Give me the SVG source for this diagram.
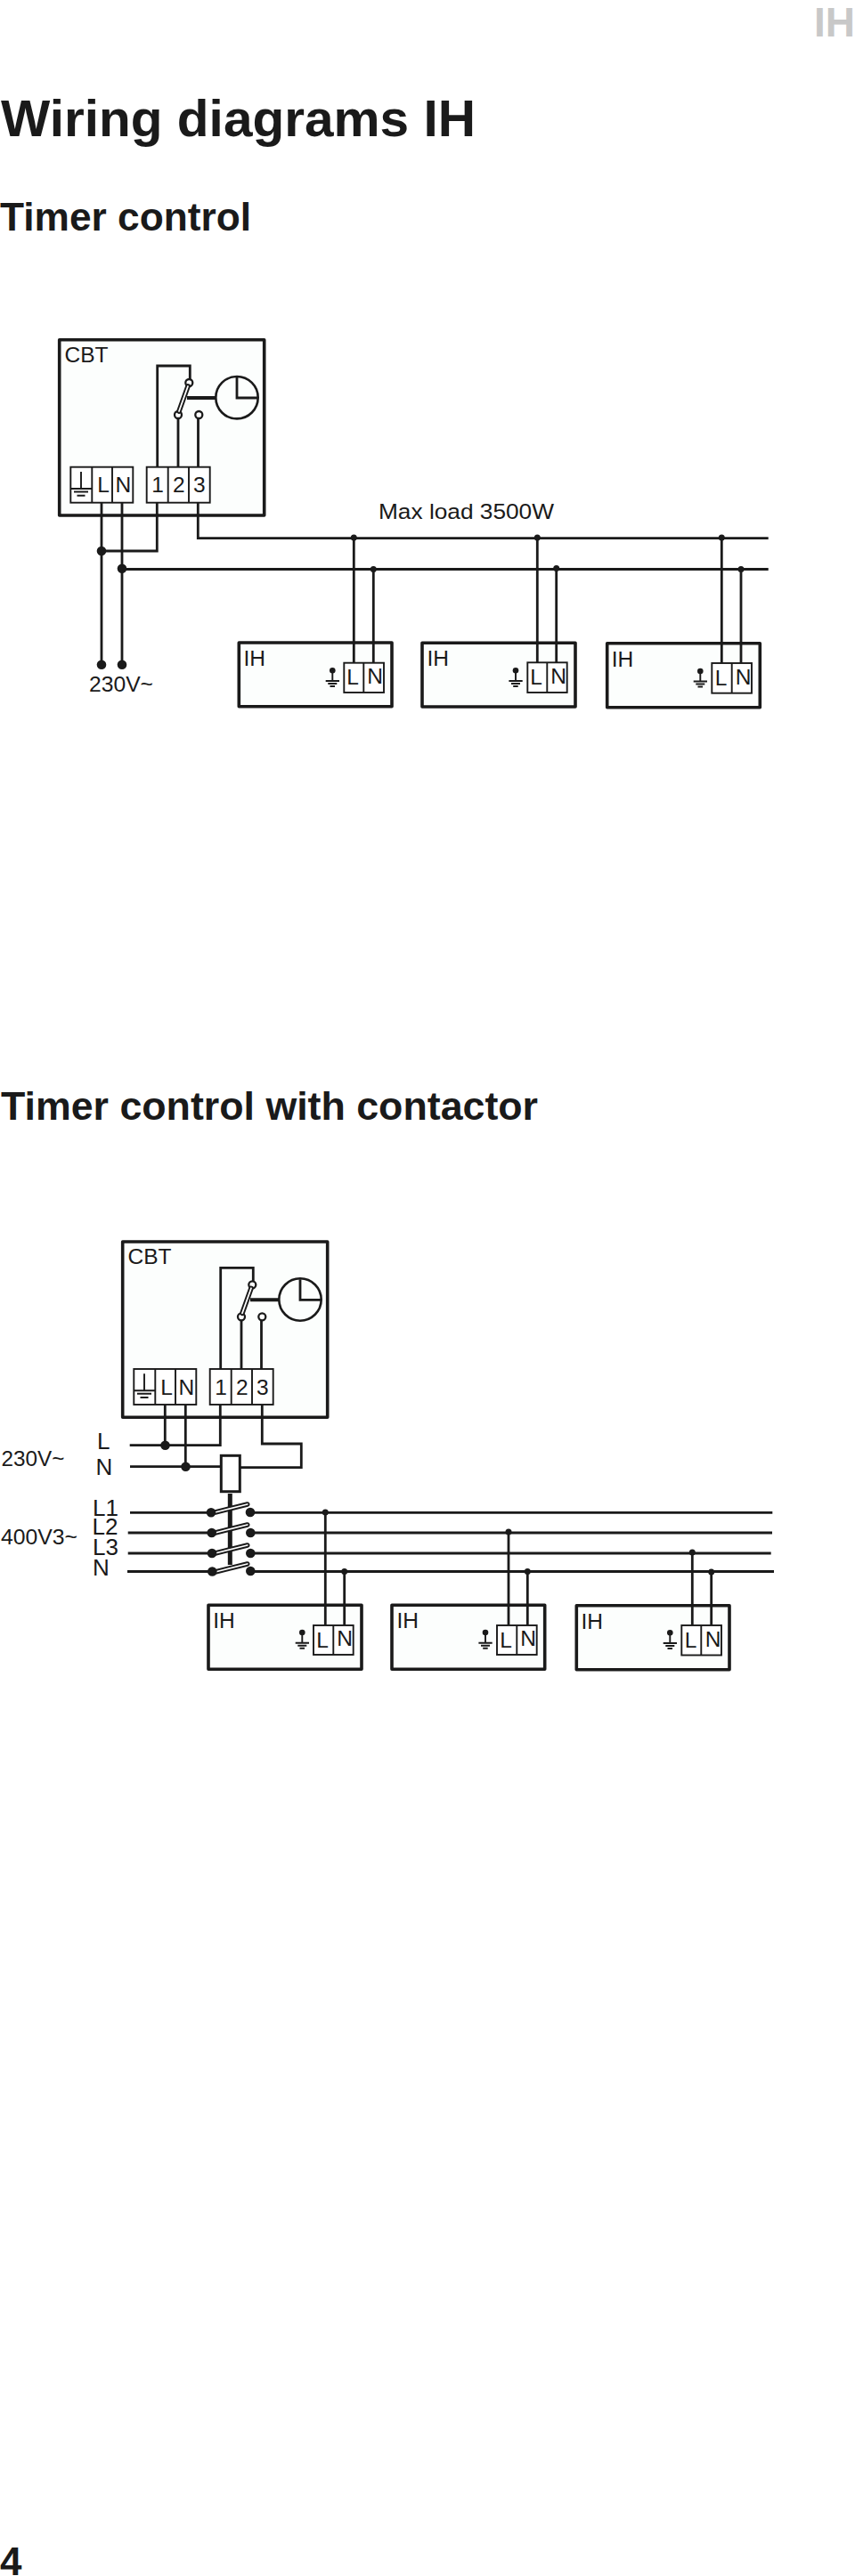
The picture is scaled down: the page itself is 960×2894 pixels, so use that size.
<svg xmlns="http://www.w3.org/2000/svg" width="960" height="2894" viewBox="0 0 960 2894">
<style>
text{font-family:"Liberation Sans",Arial,sans-serif;fill:#1a1a1a}
.h{font-weight:700}
.t{font-size:24.5px}
.lab{font-size:26px}
.c{text-anchor:middle}
.box{fill:#fcfefd;stroke:#1a1a1a;stroke-width:3.6;stroke-linejoin:round}
.term{fill:#fff;stroke:#1a1a1a;stroke-width:1.9}
.w{fill:none;stroke:#1a1a1a;stroke-width:2.8}
.thin{fill:none;stroke:#1a1a1a;stroke-width:1.9}
.open{fill:#fff;stroke:#1a1a1a;stroke-width:2.3}
.dot{fill:#1a1a1a}
.arm{stroke:#1a1a1a;stroke-width:5.6;stroke-linecap:round}
.core{stroke:#fff;stroke-width:1.8;stroke-linecap:round}
</style>
<rect width="960" height="2894" fill="#fff"/>
<text class="h" x="914" y="40.7" font-size="46" style="fill:#c8c8c8">IH</text>
<text class="h" x="1" y="153" font-size="58" textLength="533" lengthAdjust="spacingAndGlyphs">Wiring diagrams IH</text>
<text class="h" x="0" y="259.3" font-size="44" textLength="282" lengthAdjust="spacingAndGlyphs">Timer control</text>
<text class="h" x="1" y="1257.7" font-size="44" textLength="603" lengthAdjust="spacingAndGlyphs">Timer control with contactor</text>
<text class="h" x="0" y="2892.7" font-size="44">4</text>

<g id="cbt-1">
<rect class="box" x="66.7" y="381.7" width="230" height="197.3"/>
<text class="t" x="72.5" y="407">CBT</text>
<path class="w" d="M176.7 524.7V411H213.3V430M200 466V524.7M222.5 470V524.7"/>
<circle class="open" cx="212.3" cy="430" r="4"/>
<circle class="open" cx="200" cy="466" r="4"/>
<circle class="open" cx="223.3" cy="466" r="4"/>
<line class="arm" x1="211" y1="434" x2="201" y2="462"/>
<line class="core" x1="211" y1="434" x2="201" y2="462"/>
<path d="M210 447H242.3" fill="none" stroke="#1a1a1a" stroke-width="4"/>
<circle cx="266" cy="446.7" r="23.7" fill="#fcfefd" stroke="#1a1a1a" stroke-width="2.6"/>
<path class="w" d="M266 424V447H290"/>
<rect class="term" x="79.3" y="524.7" width="70" height="40"/>
<path class="thin" d="M103.3 524.7V564.7M126 524.7V564.7M91 530V548M79.3 549H103.3M83 552.5H99M86.5 556.7H95.5"/>
<text class="t c" x="116" y="553.3">L</text>
<text class="t c" x="138.3" y="553.3">N</text>
<rect class="term" x="164.7" y="524.7" width="71" height="40"/>
<path class="thin" d="M188.7 524.7V564.7M212 524.7V564.7"/>
<text class="t c" x="177" y="553.3">1</text>
<text class="t c" x="200.7" y="553.3">2</text>
<text class="t c" x="223.7" y="553.3">3</text>
</g>

<g id="ih-1">
<rect class="box" x="268.3" y="722" width="171.7" height="71.7"/>
<text class="t" x="273.5" y="747.7">IH</text>
<circle class="dot" cx="373.3" cy="753.3" r="3.3"/>
<path class="thin" d="M373.3 753.3V765M365.7 765H381M368.3 768H378.3M370.5 771H376"/>
<rect class="term" x="386.3" y="744.7" width="44.7" height="33.3"/>
<path class="thin" d="M408.3 744.7V778"/>
<text class="t c" x="396" y="769.3">L</text>
<text class="t c" x="421" y="768">N</text>
</g>
<g id="ih-2">
<rect class="box" x="474" y="722.3" width="172" height="71.7"/>
<text class="t" x="479.5" y="748">IH</text>
<circle class="dot" cx="579" cy="753.3" r="3.3"/>
<path class="thin" d="M579 753.3V765M571.4 765H586.7M574 768H584M576.2 771H581.7"/>
<rect class="term" x="592.3" y="744.3" width="44.4" height="33.7"/>
<path class="thin" d="M614.3 744.3V778"/>
<text class="t c" x="602" y="769.3">L</text>
<text class="t c" x="627" y="768">N</text>
</g>
<g id="ih-3">
<rect class="box" x="681.7" y="722.7" width="171.6" height="72"/>
<text class="t" x="686.7" y="748.5">IH</text>
<circle class="dot" cx="786.3" cy="754" r="3.3"/>
<path class="thin" d="M786.3 754V765.5M778.7 765.5H794M781.3 768.5H791.3M783.5 771.5H789"/>
<rect class="term" x="799.3" y="745" width="44.7" height="33.7"/>
<path class="thin" d="M821.7 745V778.7"/>
<text class="t c" x="809.5" y="770">L</text>
<text class="t c" x="834.5" y="768.5">N</text>
</g>

<g id="connectors-1">
<path class="w" d="M114 564.7V746.7M137 564.7V746.7M176.3 564.7V619H114M222.3 564.7V604.7H862.7M137 639.5H862.7"/>
<path class="w" d="M397.3 604.7V744.7M419.3 639.5V744.7M603.3 604.7V744.3M624.7 639.5V744.3M810.3 604.7V745M832 639.5V745"/>
<circle class="dot" cx="114" cy="619" r="5.3"/>
<circle class="dot" cx="137" cy="638.7" r="5.3"/>
<circle class="dot" cx="114" cy="746.7" r="5.3"/>
<circle class="dot" cx="137" cy="746.7" r="5.3"/>
<circle class="dot" cx="397.3" cy="604" r="3.5"/>
<circle class="dot" cx="419.3" cy="639.5" r="3.5"/>
<circle class="dot" cx="603.3" cy="604" r="3.5"/>
<circle class="dot" cx="624.7" cy="638.5" r="3.5"/>
<circle class="dot" cx="810.3" cy="604" r="3.5"/>
<circle class="dot" cx="832" cy="639.5" r="3.5"/>
</g>
<text class="t" x="100" y="776.7" textLength="72" lengthAdjust="spacingAndGlyphs">230V~</text>
<text class="t" x="425" y="582.7" textLength="197" lengthAdjust="spacingAndGlyphs">Max load 3500W</text>

<g id="cbt-2" transform="translate(71 1013.3)">
<rect class="box" x="66.7" y="381.7" width="230" height="197.3"/>
<text class="t" x="72.5" y="407">CBT</text>
<path class="w" d="M176.7 524.7V411H213.3V430M200 466V524.7M222.5 470V524.7"/>
<circle class="open" cx="212.3" cy="430" r="4"/>
<circle class="open" cx="200" cy="466" r="4"/>
<circle class="open" cx="223.3" cy="466" r="4"/>
<line class="arm" x1="211" y1="434" x2="201" y2="462"/>
<line class="core" x1="211" y1="434" x2="201" y2="462"/>
<path d="M210 447H242.3" fill="none" stroke="#1a1a1a" stroke-width="4"/>
<circle cx="266" cy="446.7" r="23.7" fill="#fcfefd" stroke="#1a1a1a" stroke-width="2.6"/>
<path class="w" d="M266 424V447H290"/>
<rect class="term" x="79.3" y="524.7" width="70" height="40"/>
<path class="thin" d="M103.3 524.7V564.7M126 524.7V564.7M91 530V548M79.3 549H103.3M83 552.5H99M86.5 556.7H95.5"/>
<text class="t c" x="116" y="553.3">L</text>
<text class="t c" x="138.3" y="553.3">N</text>
<rect class="term" x="164.7" y="524.7" width="71" height="40"/>
<path class="thin" d="M188.7 524.7V564.7M212 524.7V564.7"/>
<text class="t c" x="177" y="553.3">1</text>
<text class="t c" x="200.7" y="553.3">2</text>
<text class="t c" x="223.7" y="553.3">3</text>
</g>

<g id="ih-4">
<rect class="box" x="234" y="1803.3" width="172" height="72"/>
<text class="t" x="239.2" y="1828.7">IH</text>
<circle class="dot" cx="339.3" cy="1834" r="3.3"/>
<path class="thin" d="M339.3 1834V1845.7M331.7 1845.7H347M334.3 1848.7H344.3M336.5 1851.7H342"/>
<rect class="term" x="352" y="1826" width="44.7" height="33"/>
<path class="thin" d="M374.3 1826V1859"/>
<text class="t c" x="362" y="1850.5">L</text>
<text class="t c" x="387" y="1849">N</text>
</g>
<g id="ih-5">
<rect class="box" x="440" y="1803.3" width="171.7" height="72"/>
<text class="t" x="445.5" y="1828.7">IH</text>
<circle class="dot" cx="545" cy="1834" r="3.3"/>
<path class="thin" d="M545 1834V1845.7M537.4 1845.7H552.7M540 1848.7H550M542.2 1851.7H547.7"/>
<rect class="term" x="558" y="1826" width="44.7" height="33"/>
<path class="thin" d="M580.3 1826V1859"/>
<text class="t c" x="568" y="1850.5">L</text>
<text class="t c" x="593" y="1849">N</text>
</g>
<g id="ih-6">
<rect class="box" x="647.3" y="1803.7" width="171.7" height="72"/>
<text class="t" x="652.5" y="1829.5">IH</text>
<circle class="dot" cx="752.3" cy="1834.3" r="3.3"/>
<path class="thin" d="M752.3 1834.3V1846M744.7 1846H760M747.3 1849H757.3M749.5 1852H755"/>
<rect class="term" x="765.3" y="1826" width="44.7" height="33.5"/>
<path class="thin" d="M787.3 1826V1859.5"/>
<text class="t c" x="775.5" y="1851">L</text>
<text class="t c" x="800.5" y="1849.5">N</text>
</g>

<g id="contactor">
<rect x="248.3" y="1635.3" width="21" height="40.4" fill="#fff" stroke="#1a1a1a" stroke-width="3"/>
<path d="M258.3 1678V1758" fill="none" stroke="#1a1a1a" stroke-width="5"/>
<line class="arm" x1="241.7" y1="1699" x2="277.7" y2="1690"/>
<line class="core" x1="241.7" y1="1699" x2="277.7" y2="1690"/>
<line class="arm" x1="241.7" y1="1722" x2="277.7" y2="1713"/>
<line class="core" x1="241.7" y1="1722" x2="277.7" y2="1713"/>
<line class="arm" x1="241.7" y1="1745" x2="277.7" y2="1736"/>
<line class="core" x1="241.7" y1="1745" x2="277.7" y2="1736"/>
<line class="arm" x1="241.7" y1="1766" x2="277.7" y2="1757"/>
<line class="core" x1="241.7" y1="1766" x2="277.7" y2="1757"/>
</g>

<g id="connectors-2">
<path class="w" d="M185.3 1578V1623.7M145.7 1623.7H247.3V1578M208.3 1578V1647.7M146 1647.7H248M294.3 1578V1622H338.3V1648.7H270"/>
<path class="w" d="M146 1699.3H237M281 1699.3H867.3M143.7 1722H237.7M281 1722H867M143.7 1745H238M281 1745H865.7M143 1765.5H238.3M281 1765.5H869"/>
<path class="w" d="M365.3 1699V1826M386.7 1765.5V1826M571 1722V1826M592.3 1765.5V1826M777.3 1745V1826M798.7 1765.5V1826"/>
<circle class="dot" cx="185.5" cy="1623.7" r="5.3"/>
<circle class="dot" cx="208.5" cy="1647.7" r="5.3"/>
<circle class="dot" cx="237" cy="1699.3" r="5.3"/>
<circle class="dot" cx="237.7" cy="1722" r="5.3"/>
<circle class="dot" cx="238" cy="1745" r="5.3"/>
<circle class="dot" cx="238.3" cy="1765.5" r="5.3"/>
<circle class="dot" cx="281" cy="1699" r="5.3"/>
<circle class="dot" cx="281.3" cy="1722" r="5.3"/>
<circle class="dot" cx="281.3" cy="1745" r="5.3"/>
<circle class="dot" cx="281.3" cy="1765" r="5.3"/>
<circle class="dot" cx="365.3" cy="1699" r="3.5"/>
<circle class="dot" cx="386.7" cy="1765.5" r="3.5"/>
<circle class="dot" cx="571" cy="1721" r="3.5"/>
<circle class="dot" cx="592.3" cy="1765.5" r="3.5"/>
<circle class="dot" cx="777.3" cy="1744" r="3.5"/>
<circle class="dot" cx="798.7" cy="1766" r="3.5"/>
</g>
<text class="t" x="1.5" y="1646.7" textLength="71" lengthAdjust="spacingAndGlyphs">230V~</text>
<text class="t" x="1" y="1735" textLength="86" lengthAdjust="spacingAndGlyphs">400V3~</text>
<text class="lab" x="109" y="1627.7">L</text>
<text class="lab" x="107.5" y="1656.7">N</text>
<text class="lab" x="104" y="1703.3">L1</text>
<text class="lab" x="103.5" y="1724">L2</text>
<text class="lab" x="104" y="1747.3">L3</text>
<text class="lab" x="104" y="1770">N</text>
</svg>
